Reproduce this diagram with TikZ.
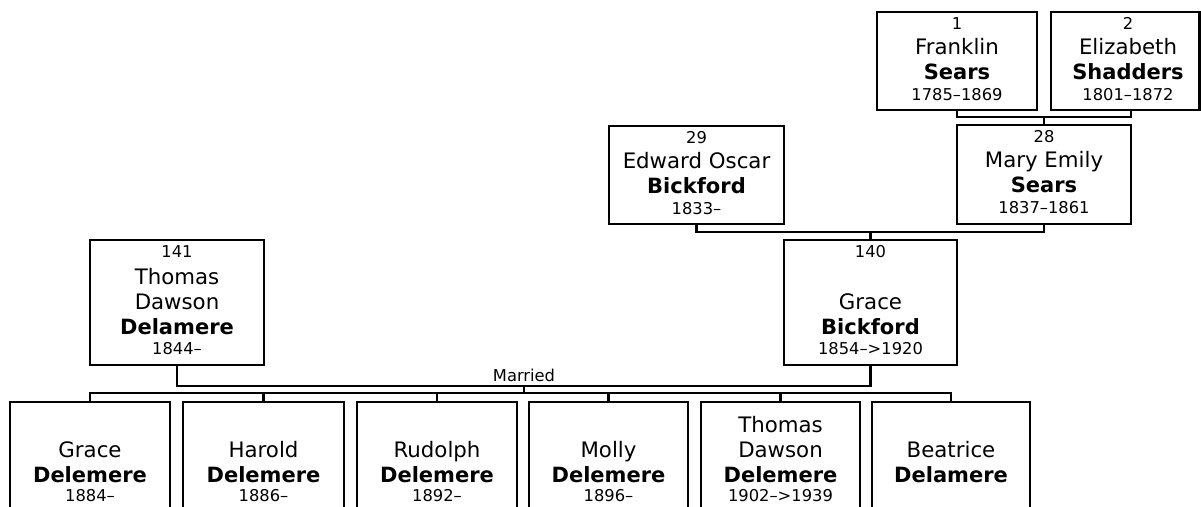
\documentclass[tikz,border=0pt]{standalone}
\usepackage{fontspec}
\setmainfont{DejaVu Sans}
\begin{document}
\begin{tikzpicture}[x=1pt,y=-1pt,
  pbox/.style={draw, line width=2.4pt, inner sep=0pt},
  link/.style={line width=2.4pt},
  numtxt/.style={anchor=base, inner sep=0pt, font=\fontsize{16.3}{19}\selectfont},
  nametxt/.style={anchor=base, inner sep=0pt, font=\fontsize{21.3}{25}\selectfont},
  surtxt/.style={anchor=base, inner sep=0pt, font=\fontsize{21}{25}\selectfont\bfseries},
  datetxt/.style={numtxt}]
\clip (0,0) rectangle (1201,506);

% grandparents
\node[pbox, minimum width=160pt, minimum height=98pt] (p1) at (957,61) {};
\node[pbox, minimum width=148.5pt, minimum height=98pt] (p2) at (1125.25,61) {};
\node[numtxt]  (p1a) at (957,29) {1};
\node[nametxt] (p1b) at (957,54) {Franklin};
\node[surtxt]  (p1c) at (957,79) {Sears};
\node[datetxt] (p1d) at (957,100) {1785–1869};
\node[numtxt]  (p2a) at (1128,29) {2};
\node[nametxt] (p2b) at (1128,54) {Elizabeth};
\node[surtxt]  (p2c) at (1128,79) {Shadders};
\node[datetxt] (p2d) at (1128,100) {1801–1872};

% parents of Grace
\node[pbox, minimum width=174pt, minimum height=99pt] (p28) at (1044,174.5) {};
\node[numtxt]  (p28a) at (1044,142) {28};
\node[nametxt] (p28b) at (1044,167) {Mary Emily};
\node[surtxt]  (p28c) at (1044,192) {Sears};
\node[datetxt] (p28d) at (1044,213) {1837–1861};

\node[pbox, minimum width=175pt, minimum height=98pt] (p29) at (696.5,175) {};
\node[numtxt]  (p29a) at (696.5,143) {29};
\node[nametxt] (p29b) at (696.5,168) {Edward Oscar};
\node[surtxt]  (p29c) at (696.5,193) {Bickford};
\node[datetxt] (p29d) at (696.5,214) {1833–};

% couple
\node[pbox, minimum width=174pt, minimum height=125pt] (p141) at (177,302.5) {};
\node[numtxt]  (p141a) at (177,257) {141};
\node[nametxt] (p141b) at (177,284) {Thomas};
\node[nametxt] (p141c) at (177,309) {Dawson};
\node[surtxt]  (p141d) at (177,334) {Delamere};
\node[datetxt] (p141e) at (177,354) {1844–};

\node[pbox, minimum width=173pt, minimum height=125pt] (p140) at (870.5,302.5) {};
\node[numtxt]  (p140a) at (870.5,257) {140};
\node[nametxt] (p140b) at (870.5,309) {Grace};
\node[surtxt]  (p140c) at (870.5,334) {Bickford};
\node[datetxt] (p140d) at (870.5,354) {1854–>1920};

% children
\node[pbox, minimum width=160pt, minimum height=200pt] (c1) at (90,502) {};
\node[pbox, minimum width=161pt, minimum height=200pt] (c2) at (263.5,502) {};
\node[pbox, minimum width=160pt, minimum height=200pt] (c3) at (437,502) {};
\node[pbox, minimum width=159pt, minimum height=200pt] (c4) at (608.5,502) {};
\node[pbox, minimum width=159pt, minimum height=200pt] (c5) at (780.5,502) {};
\node[pbox, minimum width=158pt, minimum height=200pt] (c6) at (951,502) {};

\node[nametxt] (c1a) at (90,457) {Grace};
\node[surtxt]  (c1b) at (90,482) {Delemere};
\node[datetxt] (c1c) at (90,501) {1884–};
\node[nametxt] (c2a) at (263.5,457) {Harold};
\node[surtxt]  (c2b) at (263.5,482) {Delemere};
\node[datetxt] (c2c) at (263.5,501) {1886–};
\node[nametxt] (c3a) at (437,457) {Rudolph};
\node[surtxt]  (c3b) at (437,482) {Delemere};
\node[datetxt] (c3c) at (437,501) {1892–};
\node[nametxt] (c4a) at (608.5,457) {Molly};
\node[surtxt]  (c4b) at (608.5,482) {Delemere};
\node[datetxt] (c4c) at (608.5,501) {1896–};
\node[nametxt] (c5a) at (780.5,432) {Thomas};
\node[nametxt] (c5b) at (780.5,457) {Dawson};
\node[surtxt]  (c5c) at (780.5,482) {Delemere};
\node[datetxt] (c5d) at (780.5,501) {1902–>1939};
\node[nametxt] (c6a) at (951,457) {Beatrice};
\node[surtxt]  (c6b) at (951,482) {Delamere};

% connectors
\coordinate (j1) at (1044,117);
\coordinate (p2j) at (1131,110);
\draw[link] (p1.south) |- (j1) -| (p2j);
\draw[link] (j1) -- (p28.north);

\coordinate (j2) at (870.5,232);
\draw[link] (p29.south) |- (j2) -| (p28.south);
\draw[link] (j2) -- (p140.north);

\coordinate (m) at (524,386);
\coordinate (bus) at (524,393);
\draw[link] (p141.south) |- (m) -| (p140.south);
\node[numtxt] (married) at (524,381) {Married};
\draw[link] (m) -- (bus);
\draw[link] (c1.north) -- (c1.north |- bus) -- (c6.north |- bus) -- (c6.north);
\foreach \c in {c2,c3,c4,c5} {
  \draw[link] (\c.north) -- (\c.north |- bus);
}
\end{tikzpicture}
\end{document}
